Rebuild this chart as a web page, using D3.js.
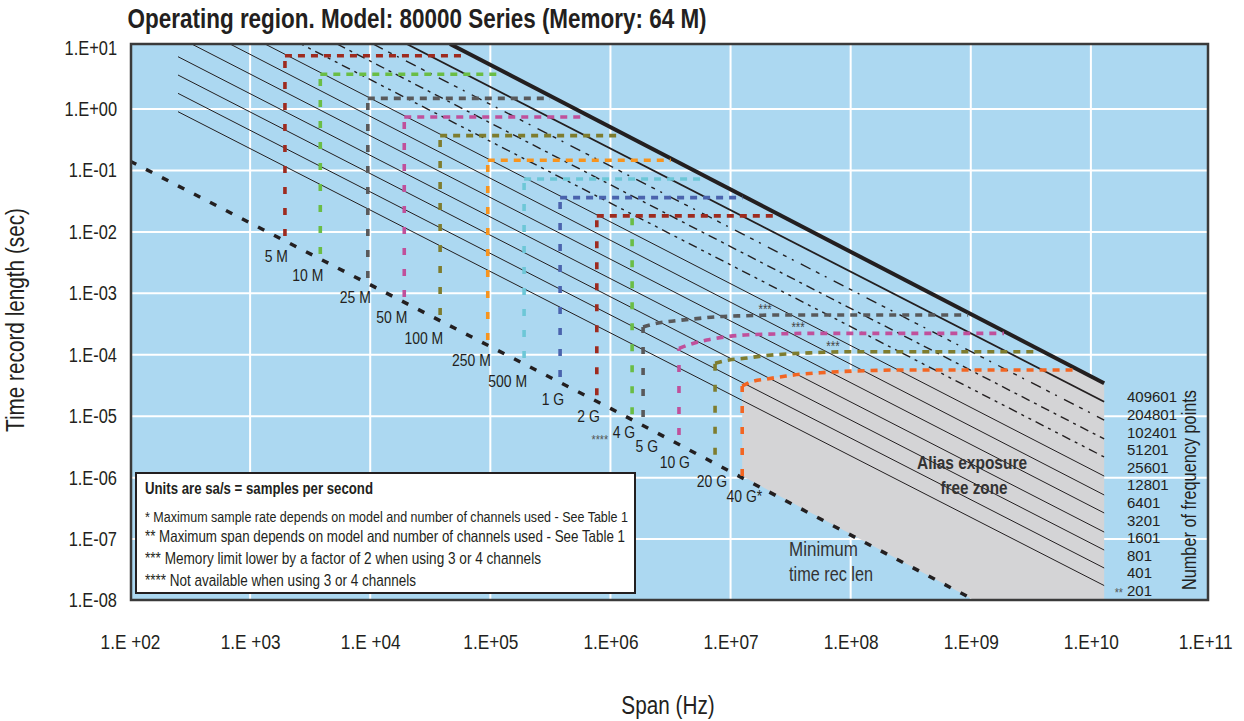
<!DOCTYPE html>
<html>
<head>
<meta charset="utf-8">
<script src="https://cdn.jsdelivr.net/npm/d3@7"></script>
<style>
  body { margin: 0; background: #fff; }
  text { font-family: "Liberation Sans", Arial, sans-serif; fill: #231f20; }
</style>
</head>
<body>
<script>
// ---- data ----
var xTicks = [1e2, 1e3, 1e4, 1e5, 1e6, 1e7, 1e8, 1e9, 1e10, 1e11];
var xTickLabels = ["1.E +02", "1.E +03", "1.E +04", "1.E+05", "1.E+06", "1.E+07", "1.E+08", "1.E+09", "1.E+10", "1.E+11"];
var yTicks = [1e1, 1e0, 1e-1, 1e-2, 1e-3, 1e-4, 1e-5, 1e-6, 1e-7, 1e-8];
var yTickLabels = ["1.E+01", "1.E+00", "1.E-01", "1.E-02", "1.E-03", "1.E-04", "1.E-05", "1.E-06", "1.E-07", "1.E-08"];

// frequency point lines (span Hz, record length s at both ends)
var pointCounts = ["409601", "204801", "102401", "51201", "25601", "12801", "6401", "3201", "1601", "801", "401", "201"];
var lineStartSpan = [46180, 20140, 10550, 5290, 2653, 1330, 680, 326, 251, 251, 251, 251];
var lineStartTime = [11.45, 11.45, 11.45, 11.45, 11.45, 11.45, 11.45, 11.45, 7.11, 3.58, 1.80, 0.905];
var lineEndSpan = [1.29e10, 1.29e10, 1.29e10, 1.29e10, 1.29e10, 1.29e10, 1.29e10, 1.29e10, 1.29e10, 1.29e10, 1.29e10, 1.29e10];
var lineEndTime = [3.43e-5, 1.72e-5, 8.67e-6, 4.26e-6, 2.17e-6, 1.06e-6, 5.22e-7, 2.66e-7, 1.30e-7, 6.63e-8, 3.38e-8, 1.75e-8];

// minimum time record length
var minLineSpan = [100, 1e6, 1.086e9];
var minLineTime = [0.142, 1.34e-5, 1e-8];

// sample rates: max span (vertical) and its time extent
var rateLabels = ["5 M", "10 M", "25 M", "50 M", "100 M", "250 M", "500 M", "1 G", "2 G", "4 G", "5 G", "10 G", "20 G", "40 G*"];
var rateSpan = [1.95e3, 3.84e3, 9.55e3, 1.92e4, 3.82e4, 9.52e4, 1.91e5, 3.81e5, 7.7e5, 1.515e6, 1.87e6, 3.72e6, 7.43e6, 1.25e7];
var rateTopTime = [7.38, 3.69, 1.49, 0.742, 0.369, 0.147, 0.0728, 0.0362, 0.0182, 0.0182, 2.83e-4, 1.27e-4, 7.26e-5, 3.1e-5];
var rateBottomTime = [8.6e-3, 4.35e-3, 1.77e-3, 8.7e-4, 4.45e-4, 1.74e-4, 8.85e-5, 4.35e-5, 2.2e-5, 1.08e-5, 9.7e-6, 4.95e-6, 2.35e-6, 1.06e-6];
var rateColors = ["#9e2b1f", "#6abd45", "#58595b", "#c0509b", "#7e7c2e", "#f7941e", "#6dc7d7", "#4a63ad",
                  "#9e2b1f", "#6abd45", "#58595b", "#c0509b", "#7e7c2e", "#f26522"];

// memory limit lines (one list of points per sample rate, null = none)
var memSpan = [
  [1.95e3, 6.15e4], [3.84e3, 1.2e5], [9.55e3, 3.14e5], [1.92e4, 6.15e5], [3.82e4, 1.24e6],
  [9.52e4, 3.18e6], [1.91e5, 6.25e6], [3.81e5, 1.26e7], [7.7e5, 2.5e7], null,
  [1.87e6, 2.44e6, 3.5e6, 4.87e6, 7.72e6, 1.31e7, 2.58e7, 9.49e8],
  [3.72e6, 4.87e6, 6.34e6, 9.35e6, 1.31e7, 2.35e7, 4.5e7, 1.89e9],
  [7.43e6, 9.72e6, 1.31e7, 1.82e7, 2.9e7, 4.86e7, 9.9e7, 3.68e9],
  [1.25e7, 1.5e7, 2.01e7, 2.9e7, 3.79e7, 5.62e7, 7.78e7, 1.32e8, 2.58e8, 7.9e9]
];
var memTime = [
  [7.38, 7.38], [3.69, 3.69], [1.49, 1.49], [0.742, 0.742], [0.369, 0.369],
  [0.147, 0.147], [0.0728, 0.0728], [0.0362, 0.0362], [0.0182, 0.0182], null,
  [2.83e-4, 3.25e-4, 3.58e-4, 3.82e-4, 4.16e-4, 4.32e-4, 4.44e-4, 4.44e-4],
  [1.27e-4, 1.53e-4, 1.74e-4, 1.97e-4, 2.1e-4, 2.18e-4, 2.23e-4, 2.23e-4],
  [7.26e-5, 8.21e-5, 8.75e-5, 9.55e-5, 1.03e-4, 1.08e-4, 1.12e-4, 1.12e-4],
  [3.1e-5, 3.64e-5, 4.03e-5, 4.51e-5, 4.81e-5, 5.1e-5, 5.3e-5, 5.5e-5, 5.65e-5, 5.65e-5]
];
var noteRates = [10, 11, 12];          // "***" notes sit on these memory lines
var noteSpan = [1.94e7, 3.65e7, 7.13e7];

var legendLines = [
  "Units are sa/s = samples per second",
  "* Maximum sample rate depends on model and number of channels used - See Table 1",
  "** Maximum span depends on model and number of channels used - See Table 1",
  "*** Memory limit lower by a factor of 2 when using 3 or 4 channels",
  "**** Not available when using 3 or 4 channels"
];

// ---- layout ----
var W = 1244, H = 721;
var L = 131, R = 1208, T = 44, B = 600;

var x = d3.scaleLog().domain([1e2, 1e11]).range([130, 1211]);
var y = d3.scaleLog().domain([1e-8, 1e1]).range([600.5, 47.6]);

var svg = d3.select('body').append('svg')
  .attr('width', W).attr('height', H);

// condensed look: squeeze glyphs to 82%, or to a measured width
function narrow(sel, w) {
  var len = sel.node().getComputedTextLength();
  if (!len) return sel;
  if (w) {
    var fs = parseFloat(sel.style('font-size'));
    sel.style('font-size', (fs * w / (len * 0.82)) + 'px');
  } else {
    w = len * 0.82;
  }
  return sel.attr('textLength', w).attr('lengthAdjust', 'spacingAndGlyphs');
}

svg.append('defs').append('clipPath').attr('id', 'plotclip')
  .append('rect').attr('x', L).attr('y', T).attr('width', R - L).attr('height', B - T);

svg.append('rect').attr('x', L).attr('y', T).attr('width', R - L).attr('height', B - T)
  .attr('fill', '#acd8f1');

var plot = svg.append('g').attr('clip-path', 'url(#plotclip)');

// grid
plot.selectAll('.vgrid').data(xTicks.slice(1, 9)).enter().append('line')
  .attr('x1', function (d) { return x(d); }).attr('x2', function (d) { return x(d); })
  .attr('y1', T).attr('y2', B)
  .attr('stroke', '#fff').attr('stroke-width', 2);
plot.selectAll('.hgrid').data(yTicks.slice(1, 9)).enter().append('line')
  .attr('y1', function (d) { return y(d); }).attr('y2', function (d) { return y(d); })
  .attr('x1', L).attr('x2', R)
  .attr('stroke', '#fff').attr('stroke-width', 2);

// alias exposure free zone
var last = rateSpan.length - 1;
var zone = [[rateSpan[last], rateBottomTime[last]]];
memSpan[last].forEach(function (s, i) { zone.push([s, memTime[last][i]]); });
zone.push([lineEndSpan[0], lineEndTime[0]]);
zone.push([lineEndSpan[0], 1e-8]);
zone.push([minLineSpan[2], minLineTime[2]]);
var lin = d3.line().x(function (d) { return x(d[0]); }).y(function (d) { return y(d[1]); });
plot.append('path').attr('d', lin(zone) + 'Z').attr('fill', '#d4d4d6');

// frequency point lines
var lineWidth = [4, 1.8, 1.4, 1.4, 1.4, 1, 1, 1, 1, 1, 1, 1];
var lineDash = [null, null, '11,6,4,6,2,8', '9,5,3,5', '3,5,3,5,9,5', null, null, null, null, null, null, null];
pointCounts.forEach(function (p, i) {
  plot.append('path')
    .attr('d', lin([[lineStartSpan[i], lineStartTime[i]], [lineEndSpan[i], lineEndTime[i]]]))
    .attr('fill', 'none').attr('stroke', '#231f20')
    .attr('stroke-width', lineWidth[i])
    .attr('stroke-dasharray', lineDash[i]);
});

// minimum time record length
plot.append('path')
  .attr('d', lin(minLineSpan.map(function (s, i) { return [s, minLineTime[i]]; })))
  .attr('fill', 'none').attr('stroke', '#231f20').attr('stroke-width', 3.5)
  .attr('stroke-dasharray', '7,11');

// sample rate limits
var curve = d3.line().x(function (d) { return x(d[0]); }).y(function (d) { return y(d[1]); })
  .curve(d3.curveMonotoneX);
rateLabels.forEach(function (r, i) {
  plot.append('path')
    .attr('d', lin([[rateSpan[i], rateBottomTime[i]], [rateSpan[i], rateTopTime[i]]]))
    .attr('fill', 'none').attr('stroke', rateColors[i]).attr('stroke-width', 3.6)
    .attr('stroke-dasharray', '7,14');
  if (memSpan[i]) {
    plot.append('path')
      .attr('d', curve(memSpan[i].map(function (s, j) { return [s, memTime[i][j]]; })))
      .attr('fill', 'none').attr('stroke', rateColors[i]).attr('stroke-width', 3.6)
      .attr('stroke-dasharray', '7,6');
  }
});

// sample rate labels
var nudge = [[3, 26], [3, 27], [3, 25], [3, 26], [3, 29], [3, 26], [3, 29], [4, 28], [3, 27], [3, 24],
             [15, 35], [11, 33], [12, 32], [20, 26]];
rateLabels.forEach(function (r, i) {
  narrow(svg.append('text')
    .attr('x', x(rateSpan[i]) + nudge[i][0])
    .attr('y', y(rateBottomTime[i]) + nudge[i][1])
    .attr('text-anchor', 'end')
    .style('font-size', '17px')
    .text(r));
});
narrow(svg.append('text').attr('x', x(rateSpan[9]) - 24).attr('y', y(rateBottomTime[9]) + 30)
  .attr('text-anchor', 'end').style('font-size', '13px').style('fill', '#555').text('****'));

noteRates.forEach(function (ri, k) {
  narrow(svg.append('text').attr('x', x(noteSpan[k])).attr('y', y(memTime[ri][memTime[ri].length - 1]) - 1)
    .attr('text-anchor', 'middle').style('font-size', '14px').style('fill', '#444').text('***'));
});

// zone texts
narrow(svg.append('text').attr('x', 972).attr('y', 469).attr('text-anchor', 'middle')
  .style('font-size', '18px').style('font-weight', 'bold').style('fill', '#333').text('Alias exposure'), 110);
narrow(svg.append('text').attr('x', 974).attr('y', 494).attr('text-anchor', 'middle')
  .style('font-size', '18px').style('font-weight', 'bold').style('fill', '#333').text('free zone'), 67);
narrow(svg.append('text').attr('x', 789).attr('y', 556)
  .style('font-size', '17px').style('fill', '#333').text('Minimum'), 69);
narrow(svg.append('text').attr('x', 789).attr('y', 581)
  .style('font-size', '17px').style('fill', '#333').text('time rec len'), 84);

// frequency point labels, stacked below the line ends
var countTop = y(lineEndTime[0]) + 19;
pointCounts.forEach(function (p, i) {
  svg.append('text').attr('x', 1127).attr('y', countTop + i * 17.6)
    .style('font-size', '15.5px')
    .attr('textLength', p.length * 8.33).attr('lengthAdjust', 'spacingAndGlyphs')
    .text(p);
});
narrow(svg.append('text').attr('x', 1123).attr('y', countTop + 11 * 17.6 + 1)
  .attr('text-anchor', 'end').style('font-size', '13px').style('fill', '#555').text('**'));

narrow(svg.append('text').attr('transform', 'translate(1196,490) rotate(-90)')
  .attr('text-anchor', 'middle').style('font-size', '18px').text('Number of frequency points'), 200);

// frame
svg.append('rect').attr('x', L).attr('y', T).attr('width', R - L).attr('height', B - T)
  .attr('fill', 'none').attr('stroke', '#3a3a3a').attr('stroke-width', 2.5);

// legend box
svg.append('rect').attr('x', 136).attr('y', 473).attr('width', 499).attr('height', 120)
  .attr('fill', '#fff').attr('stroke', '#231f20').attr('stroke-width', 2);
var legendW = [228, 483, 480, 396, 271];
var legendY = [494, 521.5, 542, 564, 585.5];
legendLines.forEach(function (t, i) {
  narrow(svg.append('text').attr('x', 145).attr('y', legendY[i])
    .style('font-size', '14px').style('font-weight', i === 0 ? 'bold' : 'normal').text(t), legendW[i]);
});

// axes
var xAxis = svg.append('g').attr('transform', 'translate(0,' + B + ')')
  .call(d3.axisBottom(x).tickValues(xTicks)
    .tickFormat(function (d, i) { return xTickLabels[i]; }).tickSize(0).tickPadding(34));
xAxis.select('.domain').remove();
xAxis.selectAll('text').style('font-size', '21px').style('font-family', null).attr('fill', null)
  .each(function () { narrow(d3.select(this)); });
// last label sits against the page edge
xAxis.selectAll('.tick').filter(function (d, i) { return i === xTicks.length - 1; }).select('text')
  .style('text-anchor', 'end').attr('x', 1232 - x(1e11));

var yAxis = svg.append('g').attr('transform', 'translate(' + L + ',0)')
  .call(d3.axisLeft(y).tickValues(yTicks)
    .tickFormat(function (d, i) { return yTickLabels[i]; }).tickSize(0).tickPadding(14));
yAxis.select('.domain').remove();
yAxis.selectAll('text').style('font-size', '20px').style('font-family', null).attr('fill', null)
  .each(function () { narrow(d3.select(this)); });

// titles
narrow(svg.append('text').attr('x', 127.6).attr('y', 28)
  .style('font-size', '22px').style('font-weight', 'bold')
  .text('Operating region. Model: 80000 Series (Memory: 64 M)'), 579);
var yTitle = narrow(svg.append('text').attr('transform', 'translate(24,320) rotate(-90)').attr('text-anchor', 'middle')
  .style('font-size', '19px').text('Time record length (sec)'), 224);
narrow(svg.append('text').attr('x', 668).attr('y', 714).attr('text-anchor', 'middle')
  .style('font-size', yTitle.style('font-size')).text('Span (Hz)'));
</script>
</body>
</html>
